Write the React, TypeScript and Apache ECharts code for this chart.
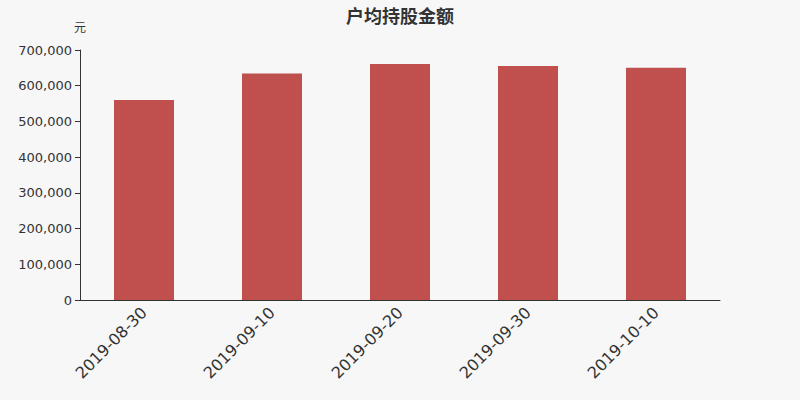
import React, { useEffect, useRef } from 'react';
import * as echarts from 'echarts';

const dates = ['2019-08-30', '2019-09-10', '2019-09-20', '2019-09-30', '2019-10-10'];
const avgHoldingValue = [560000, 634000, 661000, 655000, 650000];

const App: React.FC = () => {
  const chartRef = useRef<HTMLDivElement>(null);

  useEffect(() => {
    document.body.style.margin = '0';
    if (!chartRef.current) return;
    const chart = echarts.init(chartRef.current, undefined, { renderer: 'svg' });

    const option: echarts.EChartsOption = {
      animation: false,
      backgroundColor: '#f7f7f7',
      textStyle: { fontFamily: 'DejaVu Sans, Noto Sans CJK SC, sans-serif' },
      title: {
        text: '户均持股金额',
        left: 'center',
        top: 2,
        textStyle: { color: '#333', fontSize: 18, fontWeight: 'bold' }
      },
      grid: { left: 80, right: 80, top: 50, bottom: 100 },
      xAxis: {
        type: 'category',
        data: dates,
        axisLine: { lineStyle: { color: '#333' } },
        axisTick: { lineStyle: { color: '#333' } },
        axisLabel: { color: '#333', fontSize: 16, rotate: 45, margin: 10 }
      },
      yAxis: {
        type: 'value',
        name: '元',
        nameGap: 16,
        nameTextStyle: { color: '#333', fontSize: 12, align: 'center' },
        min: 0,
        max: 700000,
        interval: 100000,
        axisLine: { show: true, lineStyle: { color: '#333' } },
        axisTick: { show: true, lineStyle: { color: '#333' } },
        splitLine: { show: false },
        axisLabel: {
          color: '#333',
          fontSize: 13,
          formatter: (v: number) => v.toLocaleString('en-US')
        }
      },
      series: [
        {
          type: 'bar',
          data: avgHoldingValue,
          barWidth: 60,
          itemStyle: { color: '#c0504d' }
        }
      ]
    };

    chart.setOption(option);
    return () => chart.dispose();
  }, []);

  return <div ref={chartRef} style={{ width: 800, height: 400 }} />;
};

export default App;
